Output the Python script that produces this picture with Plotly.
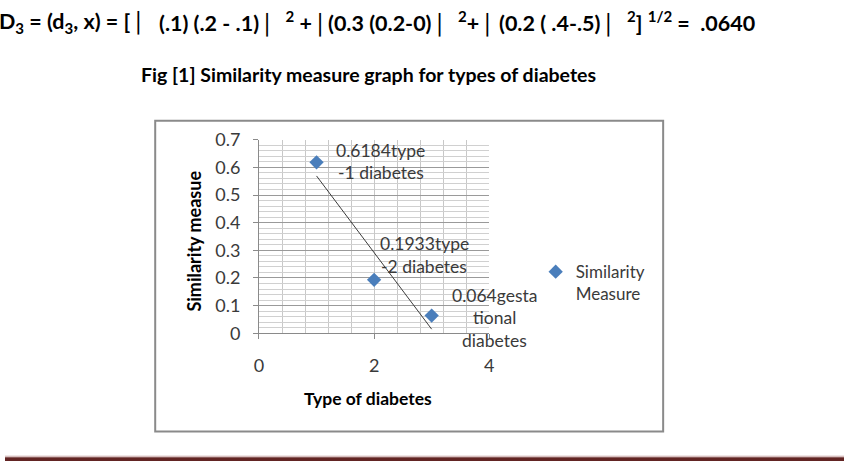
import numpy as np
import plotly.graph_objects as go

# ---- data ----
diabetes_type = [1, 2, 3]
similarity = [0.6184, 0.1933, 0.064]
label_lines = [["0.6184type", "-1 diabetes"],
               ["0.1933type", "-2 diabetes"],
               ["0.064gesta", "tional", "diabetes"]]
series_name = "Similarity<br>Measure"
x_ticks = [0, 2, 4]

W, H = 849, 471
FONT = "Lato, 'Open Sans', sans-serif"
TXT = "#3a3a3a"

def px(x):
    return x / W

def py(y):
    return 1 - y / H

fig = go.Figure()

# trendline from linear fit of the data
coef = np.polyfit(diabetes_type, similarity, 1)
tx = np.array([min(diabetes_type), max(diabetes_type)])
fig.add_trace(go.Scatter(x=tx, y=np.polyval(coef, tx), mode="lines",
                         line=dict(color="#3c3c3c", width=1),
                         showlegend=False, hoverinfo="skip"))

fig.add_trace(go.Scatter(x=diabetes_type, y=similarity, mode="markers",
                         name=series_name,
                         marker=dict(symbol="diamond", size=11, color="#4a7ebb")))

# data labels (one annotation per line)
label_cfg = [(64, 1), (50, 25), (63, -2)]
for xi, yi, lines, (xs, ys) in zip(diabetes_type, similarity, label_lines, label_cfg):
    n = len(lines)
    for k, ln in enumerate(lines):
        off = (k - (n - 1) / 2) * 22.5
        fig.add_annotation(x=xi, y=yi, text=ln, showarrow=False,
                           xanchor="center", yanchor="middle",
                           xshift=xs, yshift=ys - off,
                           font=dict(family=FONT, size=17.5, color=TXT))

# chart frame
fig.add_shape(type="rect", xref="paper", yref="paper",
              x0=px(152), x1=px(666), y0=py(440), y1=py(114),
              line=dict(color="#8a8a8a", width=2), layer="below")

# bottom decorative band
fig.add_shape(type="rect", xref="paper", yref="paper",
              x0=0, x1=1, y0=0, y1=4 / H, line=dict(width=0),
              fillcolor="#622423")
fig.add_shape(type="line", xref="paper", yref="paper",
              x0=0, x1=1, y0=5 / H, y1=5 / H,
              line=dict(color="#c9a7a7", width=1))

# page texts: formula line (pieces)
formula_parts = [(-8, "D<sub>3</sub> = (d<sub>3</sub>, x) = [│"),
                 (154, "(.1) (.2 - .1)│  <sup>2</sup> +│"),
                 (325, "(0.3 (0.2-0)│  <sup>2</sup>+│"),
                 (498, "(0.2 ( .4-.5)│  <sup>2</sup>] <sup>1/2</sup> =  .0640")]
for xp, t in formula_parts:
    fig.add_annotation(xref="paper", yref="paper", x=px(xp), y=py(11),
                       xanchor="left", yanchor="middle", showarrow=False,
                       text=t,
                       font=dict(family=FONT, size=21.5, color="#000000", weight="bold"))
fig.add_annotation(xref="paper", yref="paper", x=px(368), y=py(66),
                   xanchor="center", yanchor="middle", showarrow=False,
                   text="Fig [1] Similarity measure graph for types of diabetes",
                   font=dict(family=FONT, size=19.5, color="#000000", weight="bold"))
fig.add_annotation(xref="paper", yref="paper", x=px(367), y=py(405),
                   xanchor="center", yanchor="middle", showarrow=False,
                   text="Type of diabetes",
                   font=dict(family=FONT, size=17.5, color="#000000", weight="bold"))
fig.add_annotation(xref="paper", yref="paper", x=px(191), y=py(240),
                   xanchor="center", yanchor="middle", showarrow=False,
                   textangle=-90, text="Similarity measue",
                   font=dict(family=FONT, size=18, color="#000000", weight="bold"))

fig.update_layout(
    width=W, height=H,
    margin=dict(l=0, r=0, t=0, b=0),
    paper_bgcolor="white", plot_bgcolor="white",
    showlegend=True,
    legend=dict(x=px(537), y=py(254), xanchor="left", yanchor="top",
                font=dict(family=FONT, size=17, color=TXT), valign="top",
                bgcolor="rgba(0,0,0,0)", itemwidth=30),
    xaxis=dict(domain=[px(257), px(490)], range=[0, 4],
               tickvals=x_ticks, ticktext=[str(t) for t in x_ticks],
               showgrid=True, gridcolor="#c8c8c8", gridwidth=1,
               minor=dict(dtick=0.4, showgrid=True, gridcolor="#c8c8c8", gridwidth=1),
               zeroline=False, showline=True, linecolor="#8a8a8a", linewidth=1,
               ticks="outside", ticklen=5, tickcolor="#8a8a8a",
               ticklabelstandoff=11,
               tickfont=dict(family=FONT, size=18, color=TXT)),
    yaxis=dict(domain=[py(337), py(134)], range=[0, 0.7], dtick=0.1,
               showgrid=True, gridcolor="#9a9a9a", gridwidth=1,
               minor=dict(dtick=0.02, showgrid=True, gridcolor="#d0d0d0", gridwidth=1),
               zeroline=False, showline=True, linecolor="#8a8a8a", linewidth=1,
               ticks="outside", ticklen=5, tickcolor="#8a8a8a",
               ticklabelstandoff=9, tickformat="~g",
               tickfont=dict(family=FONT, size=18, color=TXT)),
)

fig.write_html("out.html")
